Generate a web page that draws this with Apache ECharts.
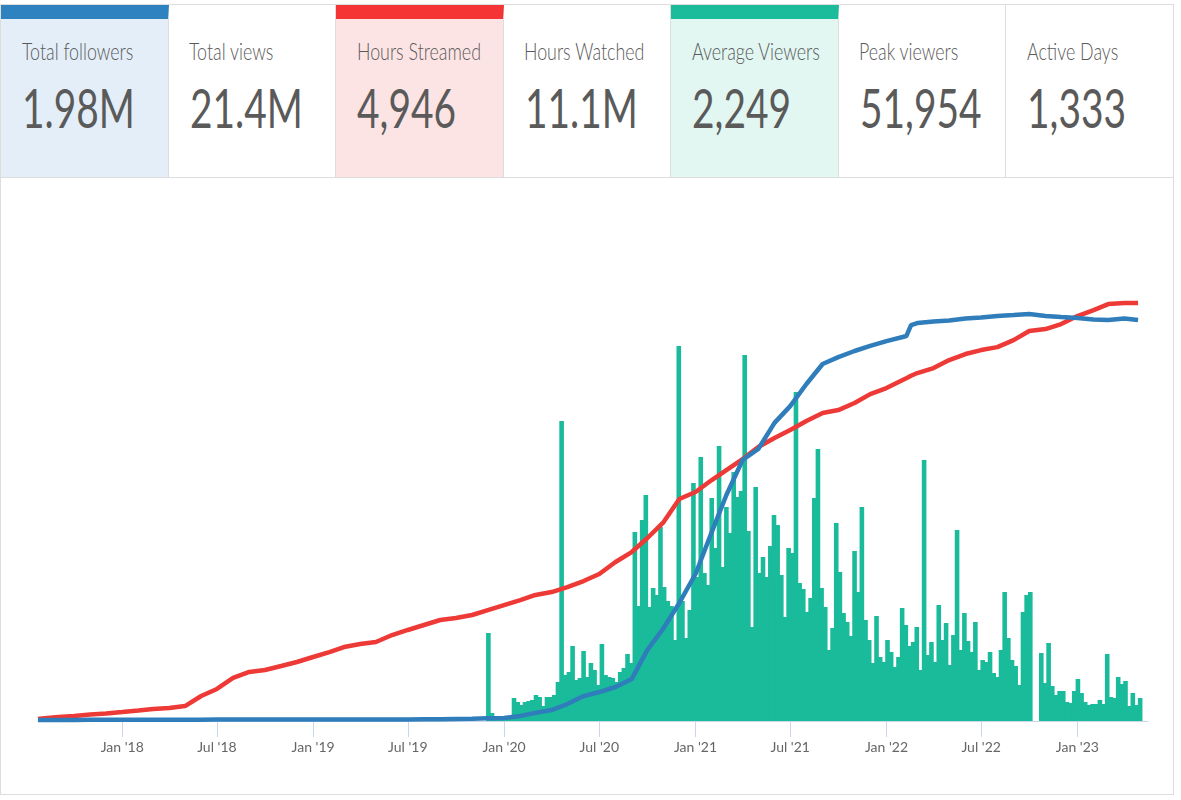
<!DOCTYPE html>
<html>
<head>
<meta charset="utf-8">
<script src="https://cdn.jsdelivr.net/npm/echarts@6/dist/echarts.min.js"></script>
<style>
  html, body { margin: 0; padding: 0; background: #fff; font-family: Lato, sans-serif; }
  #page { position: absolute; left: 0; top: 4px; width: 1174px; height: 791px; border: 1px solid #ddd; box-sizing: border-box; }
  #cards { display: flex; height: 173px; border-bottom: 1px solid #ddd; box-sizing: border-box; }
  .card { width: 167.5px; flex: none; box-sizing: border-box; border-right: 1px solid #ddd; position: relative; overflow: hidden; color: #5a5a5a; }
  .card:last-child { border-right: 0; }
  .card.blue { background: #e3eef8; border-top: 14px solid #2e82bf; }
  .card.red { background: #fde4e4; border-top: 14px solid #f53535; }
  .card.green { background: #e2f7f2; border-top: 14px solid #1abc9c; }
  .label { position: absolute; left: 20.5px; top: 32px; font-size: 23px; font-weight: 300; white-space: nowrap; transform: scale(.775, 1); transform-origin: left top; }
  .value { position: absolute; left: 21px; top: 70px; font-size: 54px; font-weight: 400; white-space: nowrap; transform: scale(.72, 1); transform-origin: left top; }
  .blue .label, .red .label, .green .label { top: 18px; }
  .blue .value, .red .value, .green .value { top: 56px; }
  #chart { position: absolute; left: 0; top: 172px; width: 1172px; height: 617px; }
</style>
</head>
<body>
<div id="page">
  <div id="cards"></div>
  <div id="chart"></div>
</div>
<script>
var cardLabels = ['Total followers', 'Total views', 'Hours Streamed', 'Hours Watched', 'Average Viewers', 'Peak viewers', 'Active Days'];
var cardValues = ['1.98M', '21.4M', '4,946', '11.1M', '2,249', '51,954', '1,333'];
var cardColors = ['blue', '', 'red', '', 'green', '', ''];

var tickDates = ['2018-01-01', '2018-07-01', '2019-01-01', '2019-07-01', '2020-01-01', '2020-07-01', '2021-01-01', '2021-07-01', '2022-01-01', '2022-07-01', '2023-01-01'];
var tickLabels = ["Jan '18", "Jul '18", "Jan '19", "Jul '19", "Jan '20", "Jul '20", "Jan '21", "Jul '21", "Jan '22", "Jul '22", "Jan '23"];

// monthly samples for the two lines, plus the kink in Feb '22
var lineDates = ['2017-07-24',
  '2017-08-01', '2017-09-01', '2017-10-01', '2017-11-01', '2017-12-01',
  '2018-01-01', '2018-02-01', '2018-03-01', '2018-04-01', '2018-05-01', '2018-06-01', '2018-07-01', '2018-08-01', '2018-09-01', '2018-10-01', '2018-11-01', '2018-12-01',
  '2019-01-01', '2019-02-01', '2019-03-01', '2019-04-01', '2019-05-01', '2019-06-01', '2019-07-01', '2019-08-01', '2019-09-01', '2019-10-01', '2019-11-01', '2019-12-01',
  '2020-01-01', '2020-02-01', '2020-03-01', '2020-04-01', '2020-05-01', '2020-06-01', '2020-07-01', '2020-08-01', '2020-09-01', '2020-10-01', '2020-11-01', '2020-12-01',
  '2021-01-01', '2021-02-01', '2021-03-01', '2021-04-01', '2021-05-01', '2021-06-01', '2021-07-01', '2021-08-01', '2021-09-01', '2021-10-01', '2021-11-01', '2021-12-01',
  '2022-01-01', '2022-02-01', '2022-02-08', '2022-02-17', '2022-03-01', '2022-04-01', '2022-05-01', '2022-06-01', '2022-07-01', '2022-08-01', '2022-09-01', '2022-10-01', '2022-11-01', '2022-12-01',
  '2023-01-01', '2023-02-01', '2023-03-01', '2023-04-01', '2023-04-27'];

// followers, thousands
var followers = [5, 5, 5, 5, 6, 6,
  6, 6, 6, 6, 6, 6, 7, 7, 7, 7, 7, 7,
  7, 7, 7, 7, 8, 8, 8, 9, 9, 10, 11, 13,
  15, 25, 40, 54, 84, 123, 143, 168, 207, 351, 459, 583,
  726, 933, 1116, 1289, 1343, 1472, 1555, 1664, 1763, 1797, 1827, 1852,
  1876, 1896, 1901, 1955, 1965, 1973, 1978, 1988, 1993, 2000, 2005, 2010, 2000, 1995,
  1990, 1983, 1980, 1988, 1980];

// cumulative hours streamed
var hoursStreamed = [24, 30, 47, 59, 77, 89,
  106, 124, 142, 154, 177, 296, 379, 509, 580, 603, 651, 698,
  757, 816, 875, 911, 935, 1017, 1077, 1136, 1195, 1218, 1254, 1313,
  1372, 1431, 1491, 1526, 1585, 1656, 1739, 1881, 1999, 2165, 2354, 2626,
  2709, 2851, 2969, 3099, 3241, 3348, 3443, 3549, 3644, 3679, 3762, 3868,
  3939, 4034, 4055, 4085, 4117, 4176, 4271, 4342, 4389, 4424, 4507, 4614, 4637, 4697,
  4791, 4862, 4933, 4945, 4946];

// weekly average viewers, first week below
var firstWeek = '2019-12-02';
var avgViewers = [1760, 160, 60, 60, 60, 60, 60, 460, 380, 320,
  380, 400, 420, 520, 480, 300, 480, 480, 520, 780,
  6000, 920, 980, 1500, 820, 860, 1400, 880, 1160, 1020,
  720, 1540, 920, 880, 860, 780, 980, 1060, 1340, 1160,
  3780, 2300, 4020, 4520, 2280, 2660, 2520, 3880, 2680, 2400,
  2300, 1620, 7500, 2400, 1660, 2220, 4760, 2880, 5280, 2960,
  2720, 4460, 3460, 5500, 3080, 4280, 3760, 4980, 4480, 4600,
  7320, 3800, 1880, 4680, 2960, 3280, 2880, 3500, 4120, 3920,
  2920, 2080, 3460, 3360, 6580, 2760, 2640, 2180, 2460, 4460,
  5440, 2660, 2280, 1420, 1860, 3960, 2980, 2160, 1980, 1700,
  3400, 2580, 4280, 2020, 1620, 1160, 2100, 1280, 1180, 1620,
  1380, 1080, 1280, 2260, 1920, 1500, 1580, 1880, 1020, 5220,
  1320, 1580, 1180, 2320, 1620, 1960, 1120, 1720, 3820, 1420,
  2160, 1600, 1380, 1980, 1020, 1220, 1180, 1380, 960, 880,
  1420, 2580, 1660, 1220, 1100, 720, 2180, 2520, 2580, null,
  null, 1360, 760, 1560, 700, 520, 600, 600, 380, 360,
  600, 840, 560, 380, 320, 340, 340, 420, 340, 1340,
  480, 460, 880, 740, 800, 300, 560, 320, 460];

var html = '';
cardLabels.forEach(function (label, i) {
  html += '<div class="card ' + cardColors[i] + '"><div class="label">' + label + '</div><div class="value">' + cardValues[i] + '</div></div>';
});
document.getElementById('cards').innerHTML = html;

function toTime(d) {
  return new Date(d + 'T00:00:00').getTime();
}
var tickTimes = tickDates.map(toTime);
var week = 7 * 24 * 3600 * 1000;

var myChart = echarts.init(document.getElementById('chart'));
myChart.setOption({
  animation: false,
  grid: { left: 37, top: 44, width: 1110, height: 500 },
  xAxis: {
    type: 'value',
    min: toTime('2017-07-24'),
    max: toTime('2023-05-16'),
    axisLine: { show: true, lineStyle: { color: '#ccd6eb', width: 1 } },
    axisTick: { show: true, length: 16, lineStyle: { color: '#ccd6eb' }, customValues: tickTimes },
    axisLabel: {
      color: '#666',
      fontFamily: 'Lato',
      fontSize: 14,
      margin: 19,
      customValues: tickTimes,
      formatter: function (v) { return tickLabels[tickTimes.indexOf(v)]; }
    },
    splitLine: { show: false }
  },
  yAxis: [
    { type: 'value', min: 0, max: 2469, show: false },
    { type: 'value', min: 0, max: 5916, show: false },
    { type: 'value', min: 0, max: 10000, show: false }
  ],
  series: [
    {
      type: 'bar',
      yAxisIndex: 2,
      barWidth: 4.6,
      itemStyle: { color: '#1abb9b' },
      data: avgViewers.map(function (v, i) { return [toTime(firstWeek) + i * week, v]; })
    },
    {
      type: 'line',
      yAxisIndex: 1,
      showSymbol: false,
      lineStyle: { color: '#ee3a36', width: 4.5 },
      data: lineDates.map(function (d, i) { return [toTime(d), hoursStreamed[i]]; })
    },
    {
      type: 'line',
      yAxisIndex: 0,
      showSymbol: false,
      lineStyle: { color: '#2f7dba', width: 4.5 },
      data: lineDates.map(function (d, i) { return [toTime(d), followers[i]]; })
    }
  ]
});
</script>
</body>
</html>
